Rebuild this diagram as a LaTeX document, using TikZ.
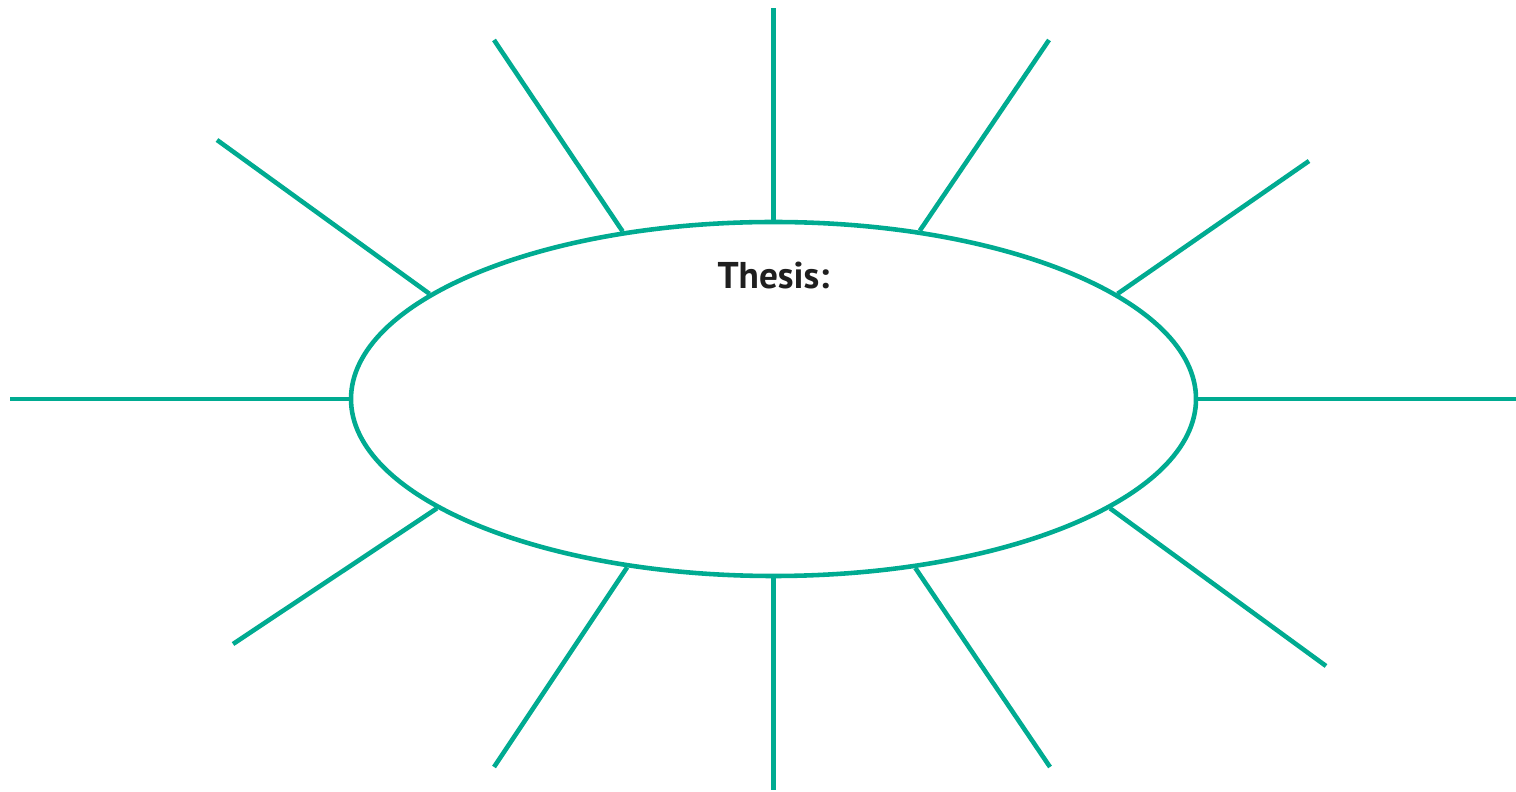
\documentclass[tikz,border=0pt]{standalone}
\usepackage{fontspec}
\setsansfont{PT Sans}
\usetikzlibrary{shapes.geometric,positioning}
\definecolor{spokegreen}{HTML}{00AB91}

\begin{document}
\begin{tikzpicture}[font=\sffamily,
 hub/.style={ellipse,draw=spokegreen,line width=1.3pt,inner sep=0pt,
  minimum width=8.45cm,minimum height=3.54cm},
 spoke/.style={draw=spokegreen,line width=1.3pt}]
\useasboundingbox (0,0) rectangle (15.16,7.91);
\node[hub] (thesis) at (7.735,3.92) {};
\node[font=\sffamily\bfseries\fontsize{10.6}{12}\selectfont,text=black!88,
 below=0.30cm of thesis.north] (title) {Thesis:};
% Free ends of the spokes, clockwise from the top.
\foreach \ang/\x/\y [count=\i] in {90/7.735/7.83,49.5/10.49/7.51,17.85/13.09/6.30,
 0/15.16/3.92,342.1/13.26/1.25,310.5/10.50/0.24,270/7.735/0.01,229.1/4.94/0.24,
 198.3/2.33/1.47,180/0.10/3.92,163.3/2.17/6.51,132.2/4.94/7.51}
 {\coordinate (tip\i) at (\x,\y);
  \draw[spoke] (thesis.\ang) -- (tip\i);}
\end{tikzpicture}
\end{document}
